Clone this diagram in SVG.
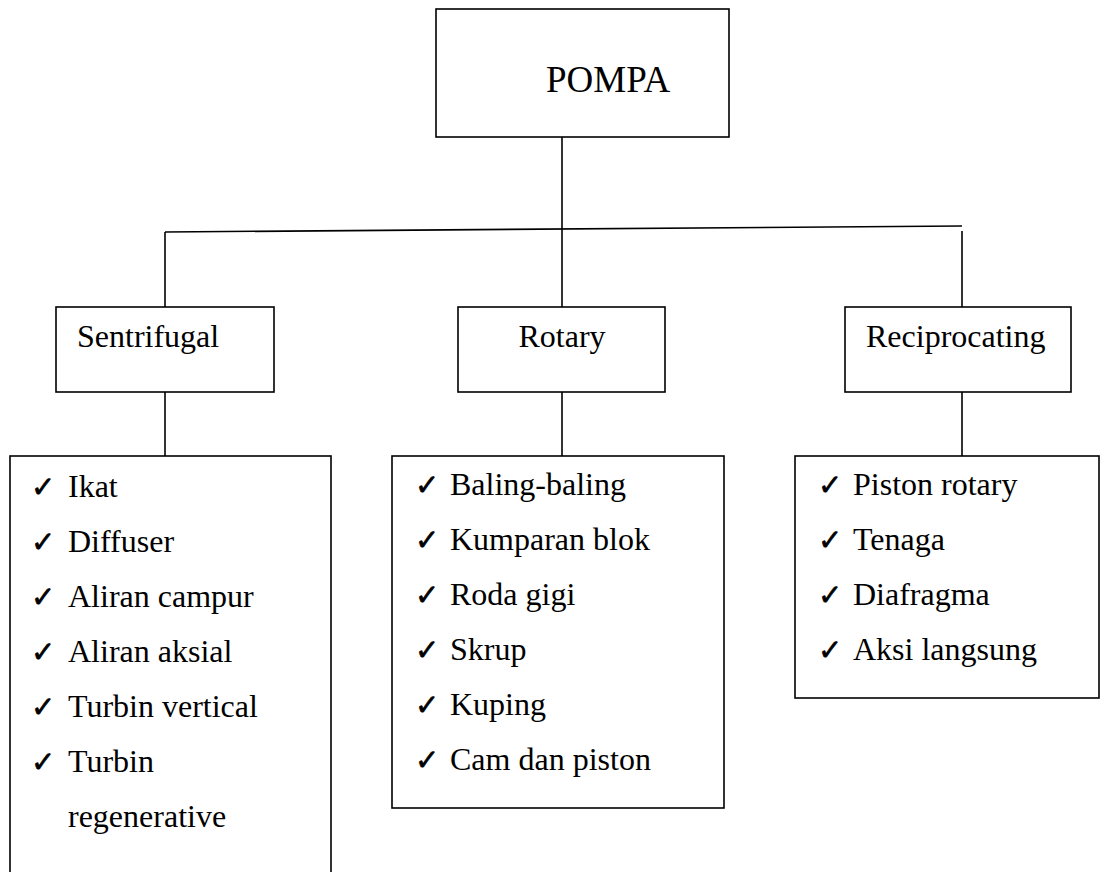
<svg xmlns="http://www.w3.org/2000/svg" width="1101" height="872" viewBox="0 0 1101 872">
<style>
.box{fill:#fff;stroke:#000;stroke-width:1.6}
.conn{fill:none;stroke:#000;stroke-width:1.6}
.t{font-family:"Liberation Serif","Times New Roman",serif;font-size:32px;fill:#000}
.ck{font-family:"DejaVu Sans",sans-serif;font-size:29px;fill:#000;stroke:#000;stroke-width:0.6}
</style>
<rect width="1101" height="872" fill="#fff"/>
<g id="connectors">
<line class="conn" x1="562" y1="137" x2="562" y2="307"/>
<line class="conn" x1="165" y1="232" x2="962" y2="226"/>
<line class="conn" x1="165" y1="232" x2="165" y2="307"/>
<line class="conn" x1="962" y1="231" x2="962" y2="307"/>
<line class="conn" x1="165" y1="392" x2="165" y2="456"/>
<line class="conn" x1="562" y1="392" x2="562" y2="456"/>
<line class="conn" x1="962" y1="392" x2="962" y2="456"/>
</g>
<g id="pompa">
<rect class="box" x="436" y="9" width="293" height="128"/>
<text class="t" x="546" y="92" style="font-size:37px">POMPA</text>
</g>
<g id="sentrifugal">
<rect class="box" x="56" y="307" width="218" height="85"/>
<text class="t" x="77" y="347">Sentrifugal</text>
</g>
<g id="rotary">
<rect class="box" x="458" y="307" width="207" height="85"/>
<text class="t" x="562" y="347" text-anchor="middle">Rotary</text>
</g>
<g id="reciprocating">
<rect class="box" x="845" y="307" width="226" height="85"/>
<text class="t" x="866" y="347">Reciprocating</text>
</g>
<g id="list-sentrifugal">
<rect class="box" x="10" y="456" width="321" height="430"/>
<text class="ck" x="31" y="497">✓</text><text class="t" x="68" y="497">Ikat</text>
<text class="ck" x="31" y="552">✓</text><text class="t" x="68" y="552">Diffuser</text>
<text class="ck" x="31" y="607">✓</text><text class="t" x="68" y="607">Aliran campur</text>
<text class="ck" x="31" y="662">✓</text><text class="t" x="68" y="662">Aliran aksial</text>
<text class="ck" x="31" y="717">✓</text><text class="t" x="68" y="717">Turbin vertical</text>
<text class="ck" x="31" y="772">✓</text><text class="t" x="68" y="772">Turbin</text>
<text class="t" x="68" y="827">regenerative</text>
</g>
<g id="list-rotary">
<rect class="box" x="392" y="456" width="332" height="352"/>
<text class="ck" x="415" y="495">✓</text><text class="t" x="450" y="495">Baling-baling</text>
<text class="ck" x="415" y="550">✓</text><text class="t" x="450" y="550">Kumparan blok</text>
<text class="ck" x="415" y="605">✓</text><text class="t" x="450" y="605">Roda gigi</text>
<text class="ck" x="415" y="660">✓</text><text class="t" x="450" y="660">Skrup</text>
<text class="ck" x="415" y="715">✓</text><text class="t" x="450" y="715">Kuping</text>
<text class="ck" x="415" y="770">✓</text><text class="t" x="450" y="770">Cam dan piston</text>
</g>
<g id="list-reciprocating">
<rect class="box" x="795" y="456" width="304" height="242"/>
<text class="ck" x="818" y="495">✓</text><text class="t" x="853" y="495">Piston rotary</text>
<text class="ck" x="818" y="550">✓</text><text class="t" x="853" y="550">Tenaga</text>
<text class="ck" x="818" y="605">✓</text><text class="t" x="853" y="605">Diafragma</text>
<text class="ck" x="818" y="660">✓</text><text class="t" x="853" y="660">Aksi langsung</text>
</g>
</svg>
